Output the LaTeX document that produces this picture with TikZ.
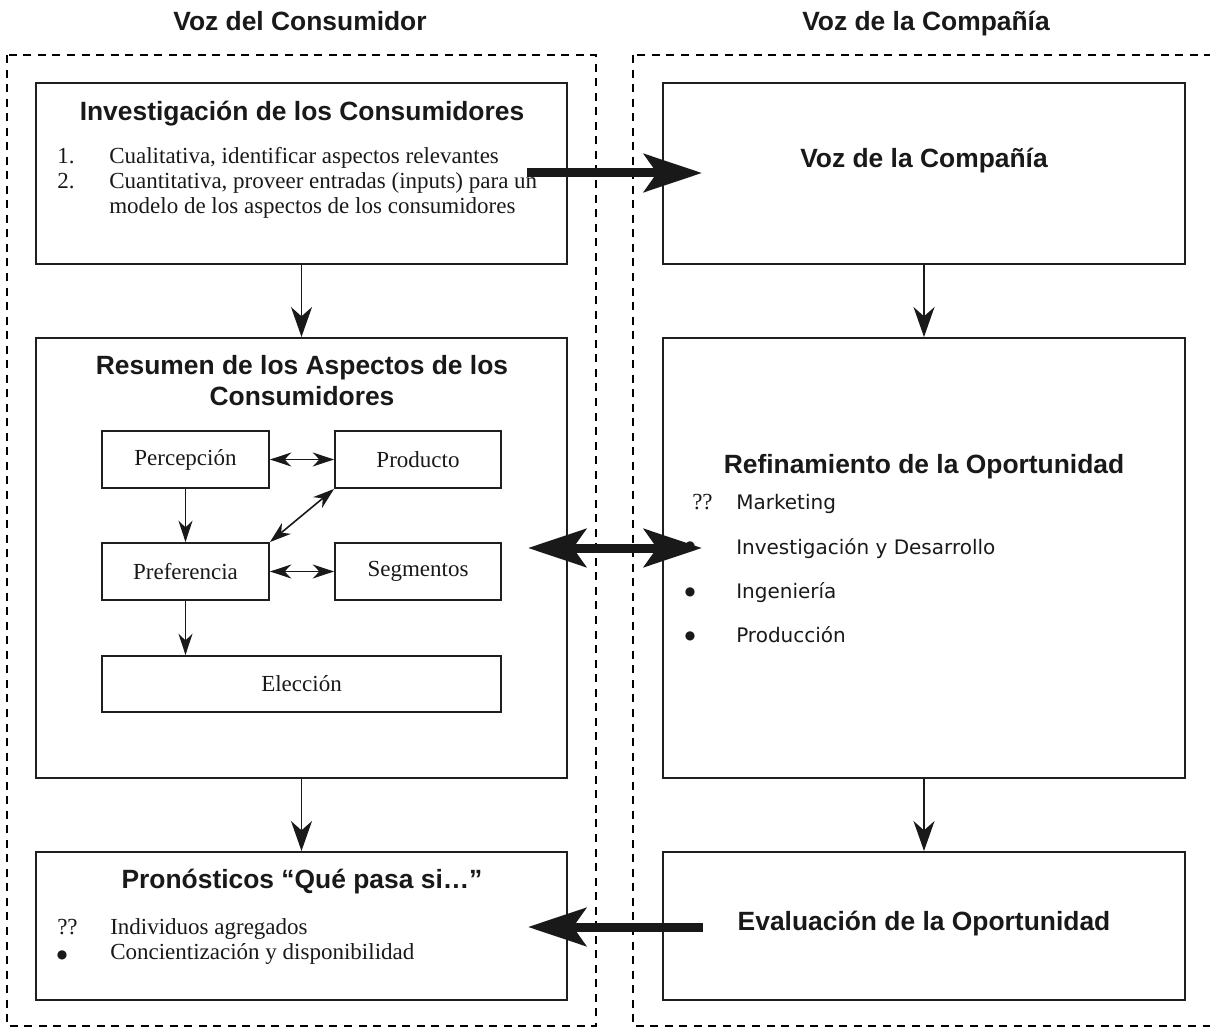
\documentclass[tikz,border=0pt]{standalone}
\usepackage{fontspec}
\setmainfont{Liberation Serif}
\newfontfamily\hdfont{Liberation Sans}
\newfontfamily\lsfont{DejaVu Sans}
\usetikzlibrary{arrows.meta}
\newdimen\pxu \pxu=0.75pt
\begin{document}
\begin{tikzpicture}[x=0.75pt,y=-0.75pt,
  hd/.style={font=\hdfont\bfseries\fontsize{19.8}{24}\selectfont, inner sep=0, anchor=base, text=black!90},
  sr/.style={font=\fontsize{17.25}{20}\selectfont, inner sep=0, anchor=base west, text=black!90},
  ls/.style={font=\lsfont\fontsize{15}{18}\selectfont, inner sep=0, anchor=base west, text=black!90},
  bul/.style={font=\lsfont\fontsize{9}{10}\selectfont, inner sep=0, anchor=center, text=black!90},
  bigbox/.style={draw=black!88, line width=1.5pt, inner sep=0},
  smallbox/.style={draw=black!88, line width=1.4pt, inner sep=0, font=\fontsize{17.25}{20}\selectfont, text=black!90},
  dashbox/.style={draw=black, line width=2pt, dash pattern=on 6pt off 4.9pt},
  dn/.style={draw=black!90, line width=1.2pt, -{Stealth[length=22.5pt, width=15.75pt, inset=7pt]}},
  inarr/.style={draw=black!90, line width=1.2pt, -{Stealth[length=16pt, width=10.5pt, inset=5pt]}},
  inarr2/.style={draw=black!90, line width=1.2pt, {Stealth[length=16pt, width=10.5pt, inset=5pt]}-{Stealth[length=16pt, width=10.5pt, inset=5pt]}},
  bigarr/.style={draw=black!90, line width=6.75pt, -{Stealth[length=43.5pt, width=28.5pt, inset=9.75pt]}},
  bigarr2/.style={draw=black!90, line width=6.75pt, {Stealth[length=43.5pt, width=28.5pt, inset=9.75pt]}-{Stealth[length=43.5pt, width=28.5pt, inset=9.75pt]}}
]
\useasboundingbox (0,0) rectangle (1210,1030);

% dashed regions
\draw[dashbox] (7,55) rectangle (596,1026);
\draw[dashbox] (633,55) rectangle (1216,1026);

% headers
\node[hd] (h1) at (300,31) {Voz del Consumidor};
\node[hd] (h2) at (926,31) {Voz de la Compañía};

% main boxes
\node[bigbox, minimum width=531\pxu, minimum height=181\pxu] (A) at (301.5,173.5) {};
\node[bigbox, minimum width=522\pxu, minimum height=181\pxu] (B) at (924,173.5) {};
\node[bigbox, minimum width=531\pxu, minimum height=440\pxu] (C) at (301.5,558) {};
\node[bigbox, minimum width=522\pxu, minimum height=440\pxu] (D) at (924,558) {};
\node[bigbox, minimum width=531\pxu, minimum height=148\pxu] (E) at (301.5,926) {};
\node[bigbox, minimum width=522\pxu, minimum height=148\pxu] (F) at (924,926) {};

% box A text
\node[hd] (tA) at (302,121) {Investigación de los Consumidores};
\node[sr] (a1n) at (57,164) {1.};
\node[sr] (a1) at (109,164) {Cualitativa, identificar aspectos relevantes};
\node[sr] (a2n) at (57,189) {2.};
\node[sr] (a2) at (109,189) {Cuantitativa, proveer entradas (inputs) para un};
\node[sr] (a3) at (109,214) {modelo de los aspectos de los consumidores};

% box B text
\node[hd] (tB) at (924,168) {Voz de la Compañía};

% box C text
\node[hd] (tC1) at (302,375) {Resumen de los Aspectos de los};
\node[hd] (tC2) at (302,406) {Consumidores};
\node[smallbox, minimum width=167\pxu, minimum height=57\pxu] (perc) at (185.5,459.5) {Percepción};
\node[smallbox, minimum width=166\pxu, minimum height=57\pxu] (prod) at (418,459.5) {Producto};
\node[smallbox, minimum width=167\pxu, minimum height=57\pxu] (pref) at (185.5,571.5) {Preferencia};
\node[smallbox, minimum width=166\pxu, minimum height=57\pxu] (seg) at (418,571.5) {Segmentos};
\node[smallbox, minimum width=399\pxu, minimum height=56\pxu] (elec) at (301.5,684) {Elección};
\draw[inarr2] (perc.east) -- (prod.west);
\draw[inarr2] (pref.east) -- (seg.west);
\draw[inarr2] (pref.north east) -- (prod.south west);
\draw[inarr] (perc.south) -- (pref.north);
\draw[inarr] (pref.south) -- (pref.south |- elec.north);

% box D text
\node[hd] (tD) at (924,474) {Refinamiento de la Oportunidad};
\node[sr] (d1n) at (692,509) {??};
\node[ls] (d1) at (736,509) {Marketing};
\node[bul] (d2n) at (690,546) {●};
\node[ls] (d2) at (736,554) {Investigación y Desarrollo};
\node[bul] (d3n) at (690,592) {●};
\node[ls] (d3) at (736,598) {Ingeniería};
\node[bul] (d4n) at (690,636) {●};
\node[ls] (d4) at (736,642) {Producción};

% box E text
\node[hd] (tE) at (302,888) {Pronósticos “Qué pasa si…”};
\node[sr] (e1n) at (57,934) {??};
\node[sr] (e1) at (110,934) {Individuos agregados};
\node[bul] (e2n) at (62,955) {●};
\node[sr] (e2) at (110,959) {Concientización y disponibilidad};

% box F text
\node[hd] (tF) at (924,930) {Evaluación de la Oportunidad};

% vertical connectors
\draw[dn] (A.south) -- (C.north);
\draw[dn] (B.south) -- (D.north);
\draw[dn] (C.south) -- (E.north);
\draw[dn] (D.south) -- (F.north);

% big arrows
\coordinate (p1) at (527,173);
\coordinate (p2) at (702,173);
\coordinate (q1) at (528,548);
\coordinate (q2) at (702,548);
\coordinate (r1) at (703,927);
\coordinate (r2) at (528,927);
\draw[bigarr] (p1) -- (p2);
\draw[bigarr2] (q1) -- (q2);
\draw[bigarr] (r1) -- (r2);
\end{tikzpicture}
\end{document}
